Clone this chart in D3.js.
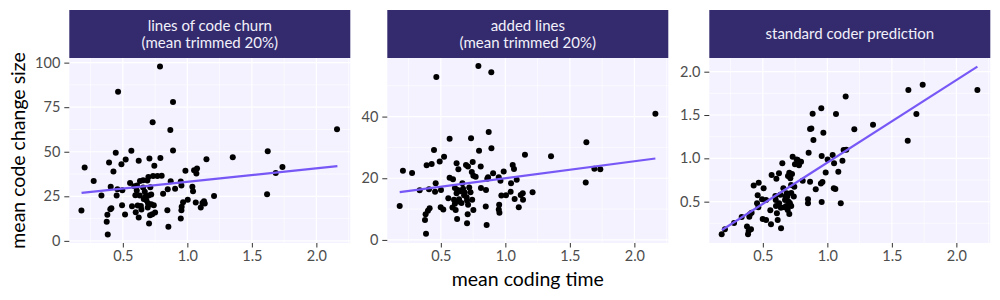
<!DOCTYPE html>
<html>
<head>
<meta charset="utf-8">
<script src="https://cdn.jsdelivr.net/npm/d3@7"></script>
<style>
  body { margin: 0; background: #fff; }
  text { font-family: Lato, "Open Sans", sans-serif; }
</style>
</head>
<body>
<svg id="chart" width="1000" height="300"></svg>
<script>
// points, [mean coding time, value]
const churnPoints = [
  [0.179,17.0],[0.204,41.1],[0.274,33.6],[0.334,25.4],[0.375,10.7],[0.380,14.6],[0.383,3.6],
  [0.393,43.9],[0.403,17.8],[0.411,18.3],[0.406,30.3],[0.427,38.9],[0.445,49.5],[0.452,25.4],
  [0.458,29.0],[0.463,83.7],[0.489,43.0],[0.496,28.4],[0.494,20.0],[0.517,14.8],[0.522,45.6],
  [0.566,50.5],[0.556,32.5],[0.571,19.4],[0.589,30.7],[0.597,25.6],[0.608,28.2],[0.623,44.9],
  [0.623,13.1],[0.633,33.6],[0.631,25.4],[0.644,17.6],[0.657,34.0],[0.657,29.9],[0.670,27.5],
  [0.675,24.7],[0.682,22.8],[0.695,21.1],[0.693,18.7],[0.706,46.2],[0.711,14.4],[0.703,9.7],
  [0.713,30.1],[0.698,35.9],[0.731,66.5],[0.734,36.4],[0.744,42.2],[0.750,15.9],[0.768,36.4],
  [0.788,97.9],[0.801,36.6],[0.791,46.5],[0.812,26.5],[0.853,7.9],[0.848,29.0],[0.845,17.2],
  [0.868,62.2],[0.871,33.5],[0.889,77.9],[0.889,50.7],[0.905,29.2],[0.949,33.3],[0.954,31.0],
  [0.956,19.1],[0.954,17.2],[0.949,12.5],[0.967,21.7],[0.985,39.4],[1.003,23.0],[1.039,30.3],
  [1.044,27.9],[1.052,39.6],[1.070,37.8],[1.075,40.6],[1.065,21.5],[1.104,18.7],[1.117,21.3],
  [1.129,22.2],[1.135,20.9],[1.148,45.8],[1.207,25.2],[1.352,46.9],[1.623,50.3],[1.618,26.2],
  [1.685,38.1],[1.737,41.5],[2.160,62.6],
  [0.600,16.1],[0.615,19.8],[0.662,23.5],[0.720,20.5],[0.740,20.0],[0.700,25.5],[0.610,31.0],
  [0.728,15.0],[0.690,33.8],[0.640,19.5],[0.720,26.0]
];

const addedPoints = [
  [0.181,11.0],[0.206,22.4],[0.277,21.7],[0.336,16.1],[0.377,6.5],[0.385,2.0],[0.382,8.3],
  [0.400,9.5],[0.413,10.3],[0.390,24.2],[0.408,16.4],[0.429,24.6],[0.447,29.2],[0.460,18.4],
  [0.455,15.6],[0.465,52.8],[0.491,25.4],[0.501,16.2],[0.499,10.6],[0.525,27.0],[0.519,9.9],
  [0.558,13.5],[0.568,32.8],[0.568,20.2],[0.594,19.7],[0.602,13.0],[0.609,11.7],[0.615,9.7],
  [0.622,24.9],[0.636,22.9],[0.609,16.8],[0.622,15.1],[0.631,16.2],[0.626,6.8],[0.641,13.2],
  [0.667,18.4],[0.672,16.6],[0.655,15.8],[0.695,24.3],[0.710,23.8],[0.685,15.4],[0.700,13.8],
  [0.703,12.8],[0.711,11.4],[0.708,8.3],[0.703,5.4],[0.734,33.0],[0.747,25.3],[0.740,22.0],
  [0.752,20.8],[0.770,20.5],[0.743,13.0],[0.752,9.7],[0.791,56.4],[0.796,28.9],[0.809,23.8],
  [0.811,16.8],[0.850,16.2],[0.848,10.8],[0.855,4.8],[0.871,35.0],[0.860,19.8],[0.866,20.3],
  [0.891,54.4],[0.892,29.7],[0.905,21.6],[0.949,20.3],[0.962,19.2],[0.952,11.4],[0.949,9.9],
  [0.954,8.8],[0.969,14.4],[0.987,22.2],[1.005,14.5],[1.041,15.6],[1.044,18.4],[1.057,24.3],
  [1.067,23.0],[1.088,19.5],[1.072,13.3],[1.104,10.6],[1.119,14.6],[1.135,15.1],[1.137,13.0],
  [1.152,27.6],[1.211,15.5],[1.354,27.1],[1.623,18.6],[1.628,31.7],[1.690,23.1],[1.736,22.9],
  [2.163,40.9],
  [0.680,14.5],[0.720,17.0],[0.660,12.0],[0.590,10.5],[0.730,15.5],[0.640,12.5]
];

const predictionPoints = [
  [0.181,0.123],[0.206,0.181],[0.277,0.254],[0.336,0.323],[0.377,0.212],[0.385,0.123],
  [0.390,0.162],[0.408,0.181],[0.395,0.327],[0.413,0.373],[0.400,0.354],[0.429,0.688],
  [0.468,0.719],[0.460,0.573],[0.455,0.481],[0.465,0.435],[0.494,0.527],[0.499,0.300],
  [0.506,0.654],[0.525,0.289],[0.525,0.519],[0.558,0.400],[0.568,0.808],[0.563,0.239],
  [0.597,0.565],[0.602,0.450],[0.609,0.365],[0.615,0.289],[0.625,0.827],[0.605,0.765],
  [0.626,0.481],[0.636,0.581],[0.641,0.192],[0.651,0.942],[0.659,0.654],[0.667,0.435],
  [0.672,0.519],[0.682,0.450],[0.693,0.404],[0.705,0.358],[0.710,0.481],[0.685,0.596],
  [0.695,0.796],[0.705,0.835],[0.713,0.769],[0.719,0.692],[0.726,0.819],[0.731,1.019],
  [0.744,0.673],[0.749,0.931],[0.762,0.988],[0.796,0.962],[0.770,0.980],[0.780,0.920],
  [0.809,0.742],[0.855,1.065],[0.866,0.731],[0.850,0.527],[0.850,0.481],[0.866,1.340],
  [0.876,1.345],[0.892,1.211],[0.886,1.515],[0.910,0.642],[0.953,1.577],[0.956,1.027],
  [0.969,1.296],[0.950,0.711],[0.962,0.727],[0.956,0.496],[0.987,0.838],[1.002,0.988],
  [1.041,1.038],[1.052,0.942],[1.050,0.654],[1.062,0.646],[1.067,1.512],[1.085,0.846],
  [1.104,0.481],[1.117,0.973],[1.126,1.096],[1.147,1.100],[1.142,1.715],[1.209,1.335],
  [1.354,1.388],[1.623,1.204],[1.628,1.788],[1.690,1.512],[1.739,1.850],[2.163,1.788],
  [0.690,0.560],[0.700,0.500],[0.720,0.600],[0.675,0.560],[0.640,0.430],[0.600,0.520],
  [0.740,0.560],[0.720,0.450]
];

// fitted lm lines, endpoints
const churnFit = [[0.18, 26.9], [2.163, 41.9]];
const addedFit = [[0.181, 15.5], [2.163, 26.4]];
const predictionFit = [[0.183, 0.173], [2.163, 2.058]];

const xTicks = [0.5, 1.0, 1.5, 2.0];
const xMinor = [0.25, 0.75, 1.25, 1.75, 2.25];

const panels = [
  { title: ['lines of code churn', '(mean trimmed 20%)'], points: churnPoints, fit: churnFit,
    yDomain: [-1.2, 102.6], yTicks: [0, 25, 50, 75, 100], yMinor: [12.5, 37.5, 62.5, 87.5], fmt: d3.format('d') },
  { title: ['added lines', '(mean trimmed 20%)'], points: addedPoints, fit: addedFit,
    yDomain: [-1.0, 59.0], yTicks: [0, 20, 40], yMinor: [10, 30, 50], fmt: d3.format('d') },
  { title: ['standard coder prediction'], points: predictionPoints, fit: predictionFit,
    yDomain: [0.023, 2.158], yTicks: [0.5, 1.0, 1.5, 2.0], yMinor: [0.25, 0.75, 1.25, 1.75], fmt: d3.format('.1f') }
];

const panelLefts = [69.3, 387.3, 709.3];
const pw = 281, plotTop = 58, plotBottom = 243, stripTop = 10;

const svg = d3.select('#chart');

panels.forEach((p, i) => {
  const left = panelLefts[i];
  const x = d3.scaleLinear().domain([0.085, 2.263]).range([left, left + pw]);
  const y = d3.scaleLinear().domain(p.yDomain).range([plotBottom, plotTop]);
  const g = svg.append('g');

  // strip
  g.append('rect').attr('x', left).attr('y', stripTop).attr('width', pw).attr('height', plotTop - stripTop)
    .attr('fill', '#332b6e');
  const lines = p.title;
  const mid = (stripTop + plotTop) / 2;
  lines.forEach((t, k) => {
    g.append('text')
      .attr('x', left + pw / 2)
      .attr('y', mid + (k - (lines.length - 1) / 2) * 16.8)
      .attr('dy', '0.35em')
      .attr('text-anchor', 'middle')
      .attr('fill', '#f2f0fa')
      .attr('font-size', 15)
      .text(t);
  });

  // panel background + grid
  g.append('rect').attr('x', left).attr('y', plotTop).attr('width', pw).attr('height', plotBottom - plotTop)
    .attr('fill', '#f4f2fe');
  const grid = g.append('g').attr('stroke', '#fff');
  grid.selectAll('.xm').data(xMinor.filter(v => x(v) <= left + pw)).join('line').attr('class', 'xm')
    .attr('x1', d => x(d)).attr('x2', d => x(d)).attr('y1', plotTop).attr('y2', plotBottom).attr('stroke-width', 0.6);
  grid.selectAll('.ym').data(p.yMinor).join('line').attr('class', 'ym')
    .attr('x1', left).attr('x2', left + pw).attr('y1', d => y(d)).attr('y2', d => y(d)).attr('stroke-width', 0.6);
  grid.selectAll('.xM').data(xTicks).join('line').attr('class', 'xM')
    .attr('x1', d => x(d)).attr('x2', d => x(d)).attr('y1', plotTop).attr('y2', plotBottom).attr('stroke-width', 1.2);
  grid.selectAll('.yM').data(p.yTicks).join('line').attr('class', 'yM')
    .attr('x1', left).attr('x2', left + pw).attr('y1', d => y(d)).attr('y2', d => y(d)).attr('stroke-width', 1.2);

  // axes
  const xa = g.append('g').attr('transform', `translate(0,${plotBottom})`)
    .call(d3.axisBottom(x).tickValues(xTicks).tickFormat(d3.format('.1f')).tickSize(4.5).tickPadding(3));
  const ya = g.append('g').attr('transform', `translate(${left},0)`)
    .call(d3.axisLeft(y).tickValues(p.yTicks).tickFormat(p.fmt).tickSize(5).tickPadding(4));
  [xa, ya].forEach(a => {
    a.select('.domain').remove();
    a.selectAll('.tick line').attr('stroke', '#333').attr('stroke-width', 1);
    a.selectAll('.tick text').attr('fill', '#4d4d4d').attr('font-size', 14.5)
      .attr('font-family', 'Lato, sans-serif');
  });

  // points
  g.append('g').selectAll('circle').data(p.points).join('circle')
    .attr('cx', d => x(d[0])).attr('cy', d => y(d[1])).attr('r', 3).attr('fill', '#000');

  // fit line
  g.append('path').datum(p.fit)
    .attr('d', d3.line().x(d => x(d[0])).y(d => y(d[1])))
    .attr('fill', 'none').attr('stroke', '#7758f6').attr('stroke-width', 2.2);
});

svg.append('text')
  .attr('transform', `translate(25,${(plotTop + plotBottom) / 2}) rotate(-90)`)
  .attr('text-anchor', 'middle')
  .attr('font-size', 19.5)
  .attr('fill', '#000')
  .text('mean code change size');

svg.append('text')
  .attr('x', panelLefts[1] + pw / 2)
  .attr('y', 286)
  .attr('text-anchor', 'middle')
  .attr('font-size', 19.5)
  .attr('fill', '#000')
  .text('mean coding time');
</script>
</body>
</html>
